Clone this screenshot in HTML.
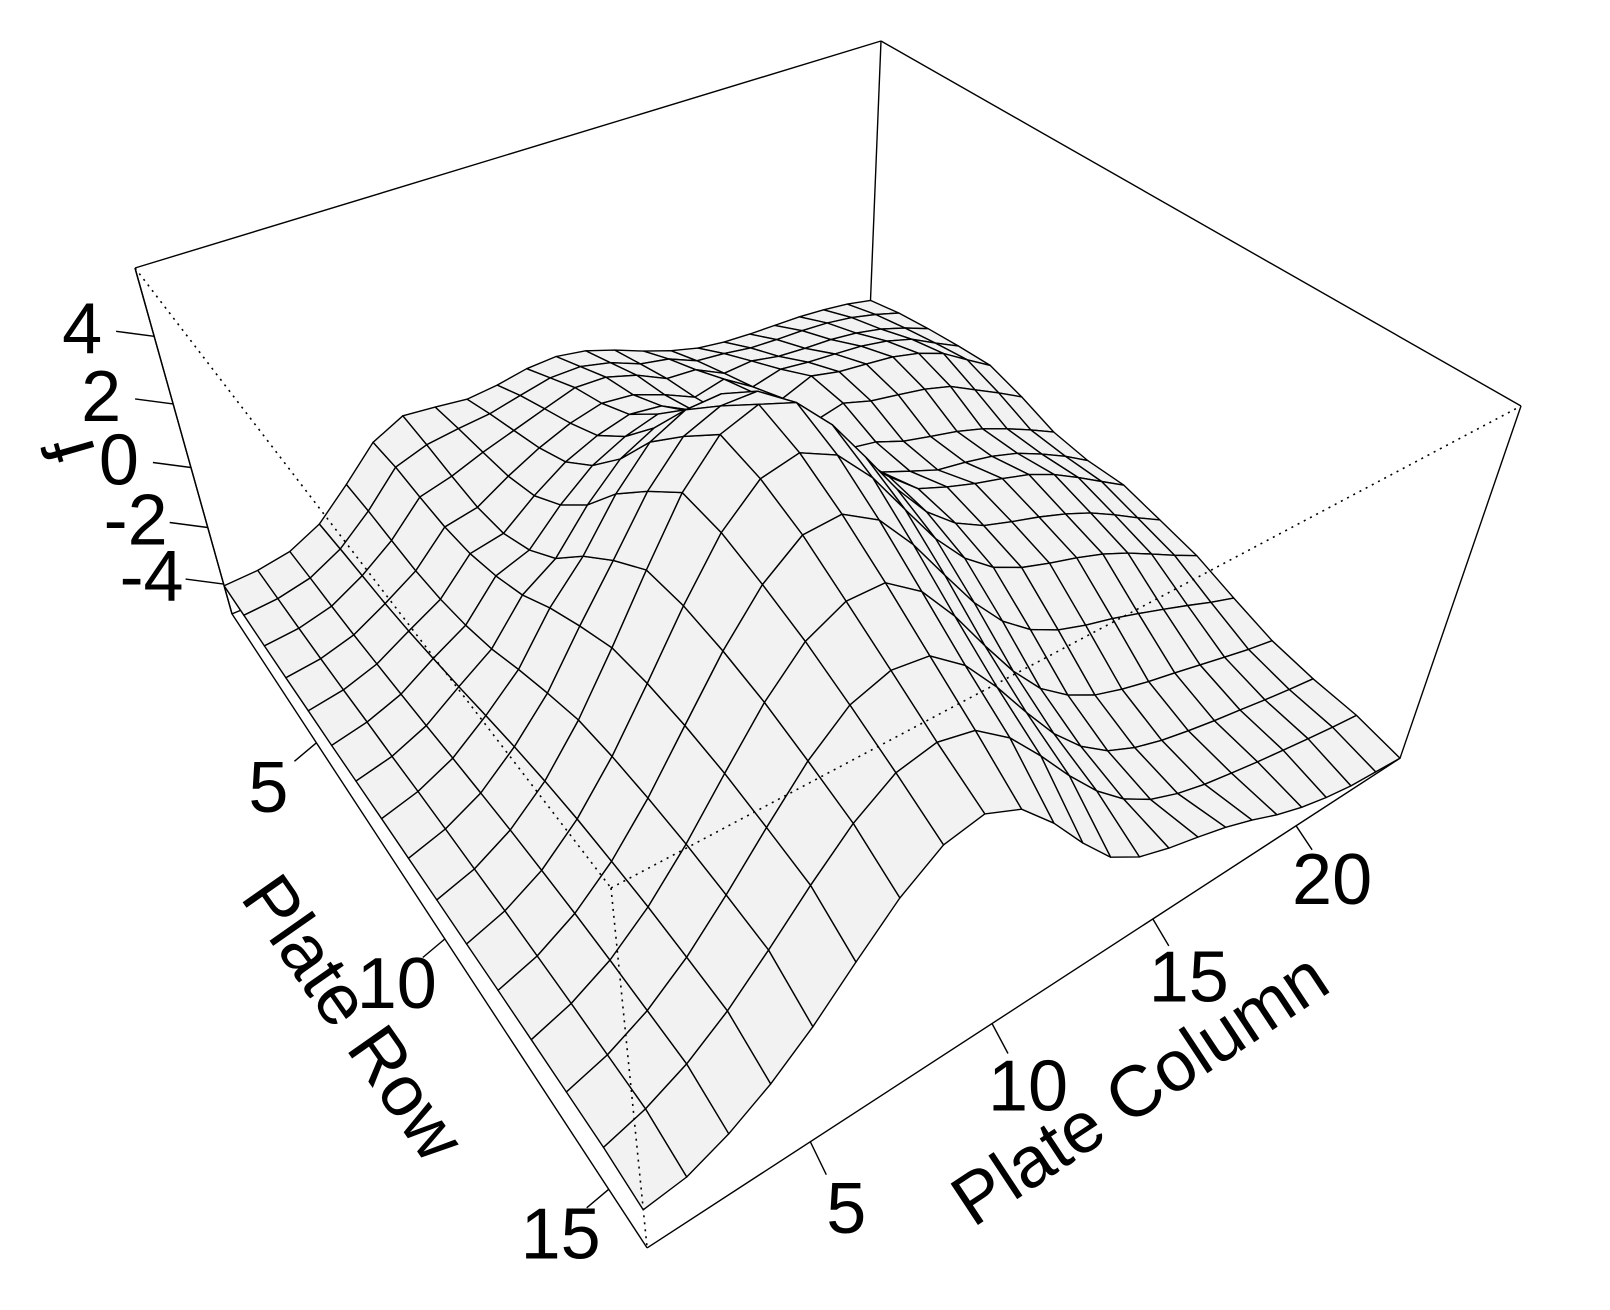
<!DOCTYPE html>
<html>
<head>
<meta charset="utf-8">
<style>
html,body{margin:0;padding:0;background:#fff;}
svg{display:block;}
text{font-family:"Liberation Sans",Arial,sans-serif;fill:#000;}
</style>
</head>
<body>
<svg id="chart" width="1610" height="1310" viewBox="0 0 1610 1310" xmlns="http://www.w3.org/2000/svg">
<rect x="0" y="0" width="1610" height="1310" fill="#ffffff"/>
<g id="box-back"></g>
<g id="surface"></g>
<g id="box-front"></g>
<g id="axes"></g>
<text x="353" y="1018" font-size="72" text-anchor="middle" dominant-baseline="central" transform="rotate(55 353 1018)">Plate Row</text>
<text x="1140" y="1089" font-size="72" text-anchor="middle" dominant-baseline="central" transform="rotate(-33.5 1140 1089)">Plate Column</text>
<text x="70" y="450" font-size="72" text-anchor="middle" dominant-baseline="central" transform="rotate(-106 70 450)">f</text>
</svg>
<script>
const plateRows = [1,2,3,4,5,6,7,8,9,10,11,12,13,14,15,16];
const plateCols = [1,2,3,4,5,6,7,8,9,10,11,12,13,14,15,16,17,18,19,20,21,22,23,24];
const fValues = [
[-4.06,-4.0,-3.8,-3.28,-2.33,-1.3,-0.81,-0.92,-1.05,-0.96,-0.78,-0.74,-0.92,-1.27,-1.68,-2.04,-2.32,-2.47,-2.54,-2.58,-2.62,-2.71,-2.85,-3.06],
[-4.04,-3.95,-3.71,-3.16,-2.29,-1.23,-0.9,-0.77,-0.68,-0.46,-0.26,-0.26,-0.51,-0.93,-1.14,-1.58,-1.7,-1.87,-1.94,-1.98,-2.06,-2.22,-2.46,-2.76],
[-4.01,-3.91,-3.64,-3.06,-2.31,-1.29,-1.03,-0.66,-0.35,-0.04,0.26,0.22,-0.1,-0.6,-0.68,-1.19,-1.14,-1.35,-1.44,-1.5,-1.63,-1.85,-2.17,-2.56],
[-3.98,-3.85,-3.54,-2.96,-2.32,-1.31,-1.11,-0.52,-0.02,0.37,0.61,0.49,0.1,-0.38,-0.16,-0.81,-0.59,-0.73,-0.82,-0.92,-1.11,-1.41,-1.92,-2.4],
[-3.94,-3.77,-3.41,-2.8,-2.22,-1.18,-0.98,-0.2,0.45,0.87,1.13,1.0,0.45,-0.09,0.24,-0.34,0.02,-0.22,-0.34,-0.47,-0.72,-1.1,-1.7,-2.28],
[-3.9,-3.67,-3.27,-2.59,-1.99,-0.86,-0.5,0.48,1.27,1.74,2.02,1.7,1.08,0.3,0.46,-0.24,-0.03,-0.35,-0.54,-0.74,-1.03,-1.54,-2.04,-2.58],
[-3.84,-3.59,-3.12,-2.36,-1.64,-0.4,0.27,1.46,2.4,2.9,3.04,2.55,1.72,0.74,0.5,-0.24,-0.43,-0.82,-1.07,-1.31,-1.63,-2.04,-2.49,-2.98],
[-3.79,-3.48,-2.95,-2.1,-1.14,0.29,1.38,2.76,3.81,4.3,4.35,3.68,2.63,1.46,0.81,-0.07,-0.47,-0.86,-1.03,-1.25,-1.57,-2.02,-2.52,-3.1],
[-3.74,-3.39,-2.8,-1.86,-0.7,0.85,2.3,3.8,4.87,5.28,5.28,4.46,3.29,2.05,1.17,0.35,-0.03,-0.36,-0.63,-0.93,-1.36,-1.9,-2.47,-3.04],
[-3.69,-3.32,-2.66,-1.67,-0.31,1.34,3.08,4.73,5.82,6.19,5.84,4.85,3.54,2.19,1.05,0.24,-0.3,-0.63,-0.93,-1.28,-1.7,-2.22,-2.78,-3.31],
[-3.65,-3.24,-2.56,-1.53,-0.16,1.47,3.16,4.66,5.61,5.85,5.37,4.34,3.01,1.7,0.63,-0.14,-0.63,-0.97,-1.27,-1.62,-2.06,-2.57,-3.09,-3.58],
[-3.61,-3.19,-2.48,-1.46,-0.11,1.47,3.04,4.33,5.15,5.23,4.62,3.49,2.14,0.82,-0.27,-1.06,-1.59,-1.95,-2.24,-2.58,-2.94,-3.31,-3.7,-4.05],
[-3.58,-3.14,-2.44,-1.42,-0.12,1.37,2.81,3.93,4.48,4.47,3.74,2.55,1.16,-0.16,-1.27,-2.05,-2.61,-2.97,-3.26,-3.5,-3.76,-4.02,-4.27,-4.48],
[-3.56,-3.13,-2.44,-1.45,-0.2,1.16,2.45,3.41,3.79,3.64,2.84,1.66,0.34,-0.91,-1.92,-2.67,-3.16,-3.5,-3.75,-3.97,-4.16,-4.36,-4.54,-4.7],
[-3.54,-3.11,-2.44,-1.5,-0.33,0.92,2.05,2.84,3.08,2.82,2.02,0.89,-0.33,-1.44,-2.34,-2.99,-3.42,-3.72,-3.94,-4.15,-4.33,-4.51,-4.67,-4.81],
[-3.66,-3.48,-2.91,-2.1,-1.06,0.19,1.38,2.22,2.44,1.93,0.87,-0.4,-1.53,-2.2,-2.58,-2.87,-3.19,-3.59,-4.05,-4.42,-4.7,-4.9,-5.0,-5.1]
];
const zLimits = [-5.1, 5.9];
const rowTicks = [5, 10, 15];
const colTicks = [5, 10, 15, 20];
const zTicks = [-4, -2, 0, 2, 4];

// projection geometry (screen layout of the box)
const P00 = [135, 268], P01 = [611, 888], P11 = [1521, 406], P10 = [881, 41];
const D00 = 5.64, D01 = 3.66, D11 = 5.13, D10 = 7.11;
const VP = [779, 2565];
const C0 = plateCols[0], C1 = plateCols[plateCols.length - 1];
const R0 = plateRows[0], R1 = plateRows[plateRows.length - 1];
const Z0 = zLimits[0], Z1 = zLimits[1];

function proj(c, r, z) {
  const u = (c - C0) / (C1 - C0), v = (r - R0) / (R1 - R0);
  const w00 = (1 - u) * (1 - v), w01 = (1 - u) * v, w11 = u * v, w10 = u * (1 - v);
  const g = w00 * D00 + w01 * D01 + w11 * D11 + w10 * D10;
  const nx = w00 * D00 * P00[0] + w01 * D01 * P01[0] + w11 * D11 * P11[0] + w10 * D10 * P10[0];
  const ny = w00 * D00 * P00[1] + w01 * D01 * P01[1] + w11 * D11 * P11[1] + w10 * D10 * P10[1];
  const tx = nx / g, ty = ny / g;
  const s = (Z1 - z) / (Z1 - Z0);
  const k = s / (g + s);
  return [tx + (VP[0] - tx) * k, ty + (VP[1] - ty) * k, g + s];
}

const NS = 'http://www.w3.org/2000/svg';
function mk(tag, parent) { const e = document.createElementNS(NS, tag); parent.appendChild(e); return e; }
function edge(parent, a, b, dotted, name) {
  const l = mk('line', parent);
  
  
  l.setAttribute('x1', a[0].toFixed(1)); l.setAttribute('y1', a[1].toFixed(1));
  l.setAttribute('x2', b[0].toFixed(1)); l.setAttribute('y2', b[1].toFixed(1));
  l.setAttribute('stroke', '#000'); l.setAttribute('stroke-width', dotted ? '1.6' : '1.4');
  if (dotted) l.setAttribute('stroke-dasharray', '2 5');
  return l;
}

const gBack = document.getElementById('box-back');
edge(gBack, proj(C0, R0, Z1), proj(C1, R0, Z1), false, 'box-edge-top-back-left');
edge(gBack, proj(C1, R0, Z1), proj(C1, R1, Z1), false, 'box-edge-top-back-right');
edge(gBack, proj(C0, R0, Z1), proj(C0, R0, Z0), false, 'box-edge-left-vertical');
edge(gBack, proj(C1, R0, Z1), proj(C1, R0, Z0), false, 'box-edge-back-vertical');
edge(gBack, proj(C1, R1, Z1), proj(C1, R1, Z0), false, 'box-edge-right-vertical');
edge(gBack, proj(C0, R0, Z0), proj(C1, R0, Z0), false, 'box-edge-bottom-back-left');
edge(gBack, proj(C1, R0, Z0), proj(C1, R1, Z0), false, 'box-edge-bottom-back-right');

const gSurf = document.getElementById('surface');
const facets = [];
for (let i = 0; i < plateRows.length - 1; i++) {
  for (let j = 0; j < plateCols.length - 1; j++) {
    const pts = [
      proj(plateCols[j], plateRows[i], fValues[i][j]),
      proj(plateCols[j + 1], plateRows[i], fValues[i][j + 1]),
      proj(plateCols[j + 1], plateRows[i + 1], fValues[i + 1][j + 1]),
      proj(plateCols[j], plateRows[i + 1], fValues[i + 1][j])
    ];
    const depth = (pts[0][2] + pts[1][2] + pts[2][2] + pts[3][2]) / 4;
    facets.push({ pts, depth });
  }
}
facets.sort((a, b) => b.depth - a.depth);
for (const f of facets) {
  const p = mk('polygon', gSurf);
  
  
  p.setAttribute('points', f.pts.map(q => q[0].toFixed(1) + ',' + q[1].toFixed(1)).join(' '));
  p.setAttribute('fill', '#f2f2f2');
  p.setAttribute('stroke', '#000');
  p.setAttribute('stroke-width', '1.4');
  p.setAttribute('stroke-linejoin', 'round');
}

const gFront = document.getElementById('box-front');
edge(gFront, proj(C0, R0, Z1), proj(C0, R1, Z1), true, 'box-edge-top-front-left');
edge(gFront, proj(C0, R1, Z1), proj(C1, R1, Z1), true, 'box-edge-top-front-right');
edge(gFront, proj(C0, R1, Z1), proj(C0, R1, Z0), true, 'box-edge-front-vertical');

const gAx = document.getElementById('axes');
edge(gAx, proj(C0, R0, Z0), proj(C0, R1, Z0), false, 'x-axis-line');
edge(gAx, proj(C0, R1, Z0), proj(C1, R1, Z0), false, 'y-axis-line');
edge(gAx, proj(C0, R0, Z1), proj(C0, R0, Z0), false, 'z-axis-line');

function label(parent, x, y, txt, name) {
  const t = mk('text', parent);
  
  
  t.setAttribute('x', x.toFixed(1)); t.setAttribute('y', y.toFixed(1));
  t.setAttribute('font-size', '72');
  t.setAttribute('text-anchor', 'middle');
  t.setAttribute('dominant-baseline', 'central');
  t.textContent = txt;
}

for (const r of rowTicks) {
  const e = proj(C0, r, Z0);
  edge(gAx, e, [e[0] - 22, e[1] + 18.5], false, 'x-tick');
  label(gAx, e[0] - 48, e[1] + 45, String(r), 'x-tick-label');
}
for (const c of colTicks) {
  const e = proj(c, R1, Z0);
  edge(gAx, e, [e[0] + 16, e[1] + 30 - (c - 10) * 0.6], false, 'y-tick');
  label(gAx, e[0] + 36, e[1] + 63 - (c - 10) * 0.9, String(c), 'y-tick-label');
}
for (const z of zTicks) {
  const e = proj(C0, R0, z);
  edge(gAx, e, [e[0] - 38, e[1] - 5], false, 'z-tick');
  label(gAx, e[0] - 72, e[1] - 7, String(z), 'z-tick-label');
}
</script>
</body>
</html>
